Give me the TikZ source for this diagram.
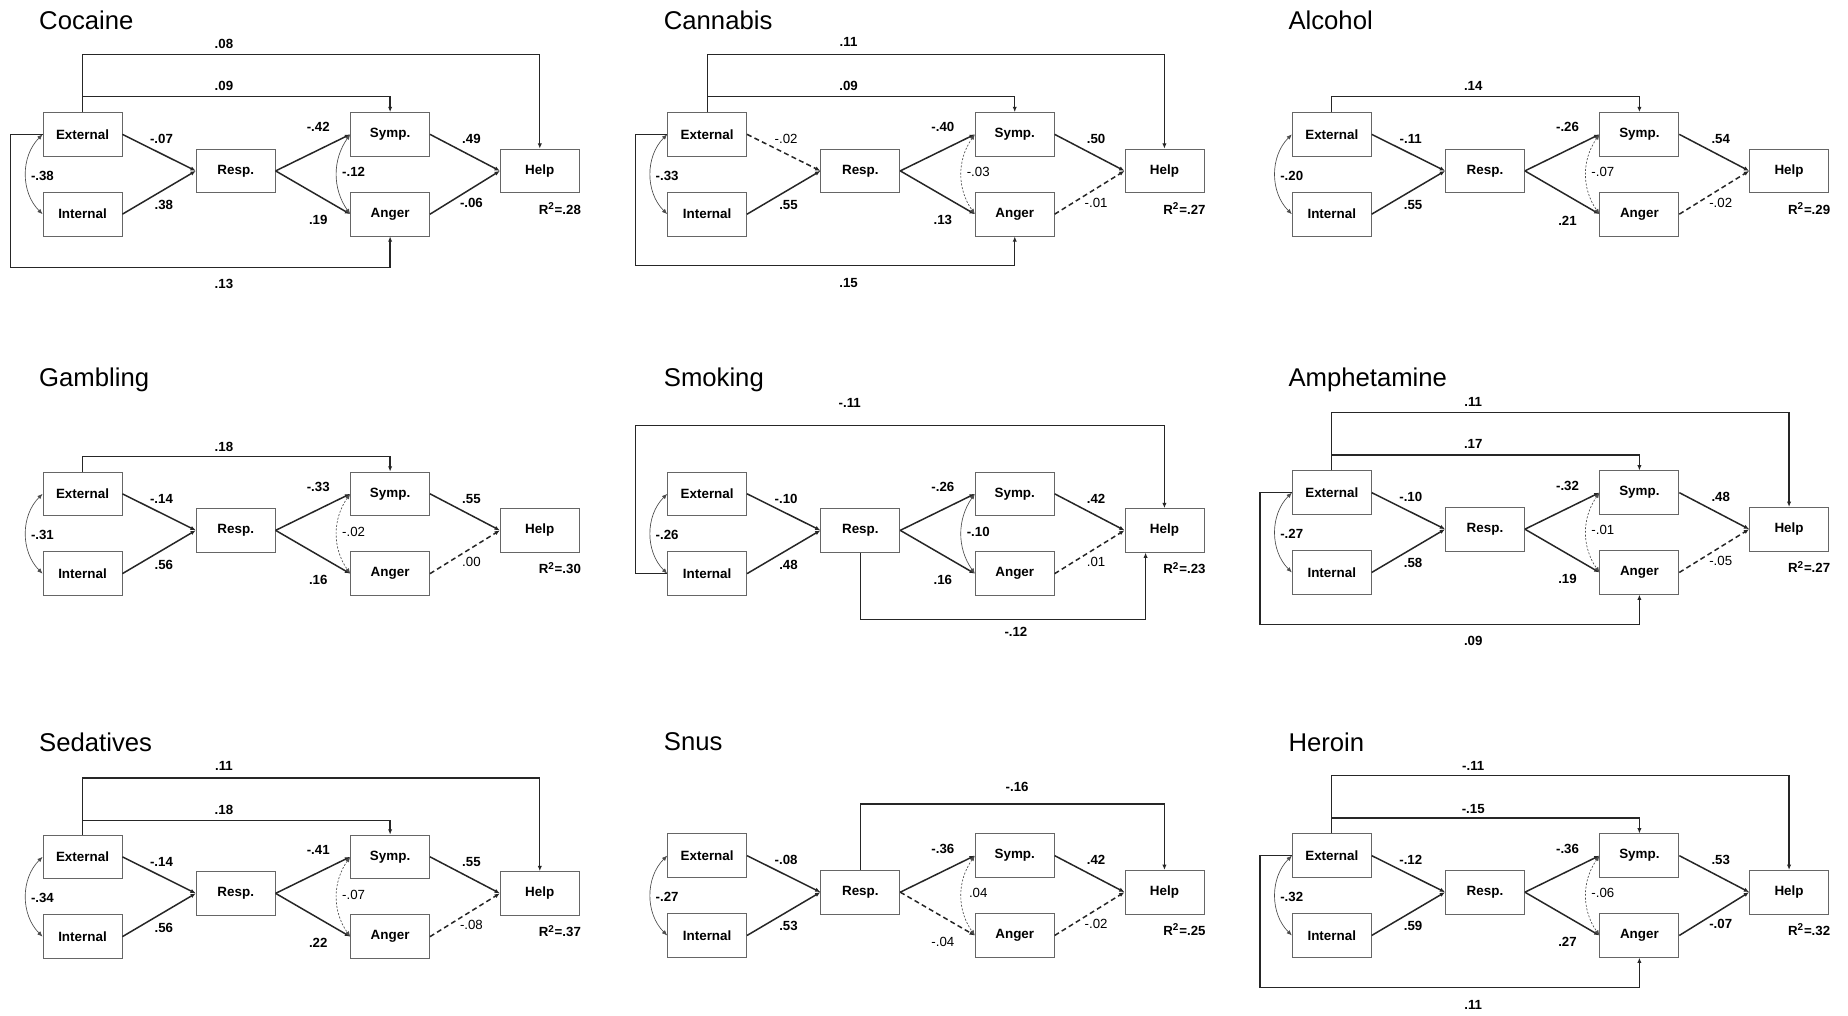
\documentclass[tikz,border=0pt]{standalone}
\usepackage{fontspec}
\setmainfont{Liberation Sans}
\usetikzlibrary{arrows.meta,positioning}

% non-significant coefficient, regular weight
\newcommand{\ns}[1]{\textmd{#1}}

% one path model: boxes, the standard paths and their coefficients
\newcommand{\semmodel}[9]{%
    % Nodes
    \node[box] (ext) at (70,114) {External};
    \node[box] (int) [below=0.75cm of ext] {Internal};
    \node[box] (resp) at (200,145) {Resp.};
    \node[box] (symp) at (331,114) {Symp.};
    \node[box] (anger) [below=0.75cm of symp] {Anger};
    \node[box] (help) at (458,145) {Help};
    % Edges
    \draw[link,eres] (ext.east) -- (resp.west);
    \draw[link,ires] (int.east) -- (resp.west);
    \draw[link,rsym] (resp.east) -- (symp.west);
    \draw[link,rang] (resp.east) -- (anger.west);
    \draw[link,shelp] (symp.east) -- (help.west);
    \draw[link,ahelp] (anger.east) -- (help.west);
    \draw[cov,eicov] (ext.west) to[bend right=45] (int.west);
    \draw[cov,sacov] (symp.west) to[bend right=35] (anger.west);
    % Coefficients
    \node[coef] (c-er) at (137,118) {#1};
    \node[coef] (c-ir) at (139,174) {#2};
    \node[coef] (c-rs) at (270,108) {#3};
    \node[coef] (c-ra) at (270,187) {#4};
    \node[coef] (c-sh) at (400,118) {#5};
    \node[coef] (c-ah) at (400,172) {#6};
    \node[coef] (c-ei) at (36,149) {#7};
    \node[coef] (c-sa) at (300,146) {#8};
    \node[coef] (r2) at (475,177) {R\textsuperscript{2}=#9};
}

\begin{document}
\begin{tikzpicture}[
        x=0.025cm, y=-0.025cm,
        >={Latex[length=3.2pt,width=2.6pt]},
        box/.style={draw=black!60, line width=0.5pt, minimum width=1.675cm, minimum height=0.925cm, inner sep=0pt, font=\fontsize{8.1}{9}\selectfont\bfseries},
        link/.style={->, line width=0.9pt, draw=black!85},
        route/.style={->, line width=0.75pt, draw=black!85},
        cov/.style={<->, line width=0.4pt, draw=black!70},
        nsig/.style={dash pattern=on 3pt off 2pt},
        nsigcov/.style={dash pattern=on 1.2pt off 1pt},
        coef/.style={inner sep=0pt, font=\fontsize{8}{9}\selectfont\bfseries},
        heading/.style={anchor=west, inner sep=0pt, font=\fontsize{15.5}{18}\selectfont},
        eres/.style={}, ires/.style={}, rsym/.style={}, rang/.style={},
        shelp/.style={}, ahelp/.style={}, eicov/.style={}, sacov/.style={}
        ]

    \path[use as bounding box, fill=white] (0,0) rectangle (1568,862);

    % Cocaine
    \begin{scope}[name prefix=cocaine-]
        \node[heading] (title) at (33,17) {Cocaine};
        \semmodel{-.07}{.38}{-.42}{.19}{.49}{-.06}{-.38}{-.12}{.28}
        \draw[route] (ext.north) -- ++(0,-49) -| (help.north);
        \draw[route] (ext.north) -- ++(0,-13) -| (symp.north);
        \draw[route] (ext.west) -- ++(-27,0) -- ++(0,113) -| (anger.south);
        \node[coef] (c-eh) at (190,37) {.08};
        \node[coef] (c-es) at (190,73) {.09};
        \node[coef] (c-ea) at (190,241) {.13};
    \end{scope}

    % Cannabis
    \begin{scope}[shift={(530,0)}, name prefix=cannabis-, eres/.style=nsig, ahelp/.style=nsig, sacov/.style=nsigcov]
        \node[heading] (title) at (33,17) {Cannabis};
        \semmodel{\ns{-.02}}{.55}{-.40}{.13}{.50}{\ns{-.01}}{-.33}{\ns{-.03}}{.27}
        \draw[route] (ext.north) -- ++(0,-49) -| (help.north);
        \draw[route] (ext.north) -- ++(0,-13) -| (symp.north);
        \draw[route] (ext.west) -- ++(-27,0) -- ++(0,111) -| (anger.south);
        \node[coef] (c-eh) at (190,36) {.11};
        \node[coef] (c-es) at (190,73) {.09};
        \node[coef] (c-ea) at (190,240) {.15};
    \end{scope}

    % Alcohol
    \begin{scope}[shift={(1060,0)}, name prefix=alcohol-, ahelp/.style=nsig, sacov/.style=nsigcov]
        \node[heading] (title) at (33,17) {Alcohol};
        \semmodel{-.11}{.55}{-.26}{.21}{.54}{\ns{-.02}}{-.20}{\ns{-.07}}{.29}
        \draw[route] (ext.north) -- ++(0,-13) -| (symp.north);
        \node[coef] (c-es) at (190,73) {.14};
    \end{scope}

    % Gambling
    \begin{scope}[shift={(0,305)}, name prefix=gambling-, ahelp/.style=nsig, sacov/.style=nsigcov]
        \node[heading] (title) at (33,17) {Gambling};
        \semmodel{-.14}{.56}{-.33}{.16}{.55}{\ns{.00}}{-.31}{\ns{-.02}}{.30}
        \draw[route] (ext.north) -- ++(0,-13) -| (symp.north);
        \node[coef] (c-es) at (190,74) {.18};
    \end{scope}

    % Smoking
    \begin{scope}[shift={(530,305)}, name prefix=smoking-, ahelp/.style=nsig]
        \node[heading] (title) at (33,17) {Smoking};
        \semmodel{-.10}{.48}{-.26}{.16}{.42}{\ns{.01}}{-.26}{-.10}{.23}
        \draw[route] (int.west) -- ++(-27,0) -- ++(0,-126) -| (help.north);
        \draw[route] (resp.south) -- ++(0,57) -| ([xshift=-0.4cm]help.south);
        \node[coef] (c-ih) at (191,37) {-.11};
        \node[coef] (c-rh) at (332,231) {-.12};
    \end{scope}

    % Amphetamine
    \begin{scope}[shift={(1060,304)}, name prefix=amphetamine-, ahelp/.style=nsig, sacov/.style=nsigcov]
        \node[heading] (title) at (33,18) {Amphetamine};
        \semmodel{-.10}{.58}{-.32}{.19}{.48}{\ns{-.05}}{-.27}{\ns{-.01}}{.27}
        \draw[route] (ext.north) -- ++(0,-49) -| (help.north);
        \draw[route] (ext.north) -- ++(0,-13) -| (symp.north);
        \draw[route] (ext.west) -- ++(-27,0) -- ++(0,112) -| (anger.south);
        \node[coef] (c-eh) at (190,37) {.11};
        \node[coef] (c-es) at (190,73) {.17};
        \node[coef] (c-ea) at (190,240) {.09};
    \end{scope}

    % Sedatives
    \begin{scope}[shift={(0,613)}, name prefix=sedatives-, ahelp/.style=nsig, sacov/.style=nsigcov]
        \node[heading] (title) at (33,17) {Sedatives};
        \semmodel{-.14}{.56}{-.41}{.22}{.55}{\ns{-.08}}{-.34}{\ns{-.07}}{.37}
        \draw[route] (ext.north) -- ++(0,-48) -| (help.north);
        \draw[route] (ext.north) -- ++(0,-12) -| (symp.north);
        \node[coef] (c-eh) at (190,37) {.11};
        \node[coef] (c-es) at (190,74) {.18};
    \end{scope}

    % Snus
    \begin{scope}[shift={(530,612)}, name prefix=snus-, rang/.style=nsig, ahelp/.style=nsig, sacov/.style=nsigcov]
        \node[heading] (title) at (33,17) {Snus};
        \semmodel{-.08}{.53}{-.36}{\ns{-.04}}{.42}{\ns{-.02}}{-.27}{\ns{.04}}{.25}
        \draw[route] (resp.north) -- ++(0,-56) -| (help.north);
        \node[coef] (c-rh) at (333,56) {-.16};
    \end{scope}

    % Heroin
    \begin{scope}[shift={(1060,612)}, name prefix=heroin-, sacov/.style=nsigcov]
        \node[heading] (title) at (33,18) {Heroin};
        \semmodel{-.12}{.59}{-.36}{.27}{.53}{-.07}{-.32}{\ns{-.06}}{.32}
        \draw[route] (ext.north) -- ++(0,-49) -| (help.north);
        \draw[route] (ext.north) -- ++(0,-13) -| (symp.north);
        \draw[route] (ext.west) -- ++(-27,0) -- ++(0,112) -| (anger.south);
        \node[coef] (c-eh) at (190,38) {-.11};
        \node[coef] (c-es) at (190,74) {-.15};
        \node[coef] (c-ea) at (190,241) {.11};
    \end{scope}

\end{tikzpicture}
\end{document}
